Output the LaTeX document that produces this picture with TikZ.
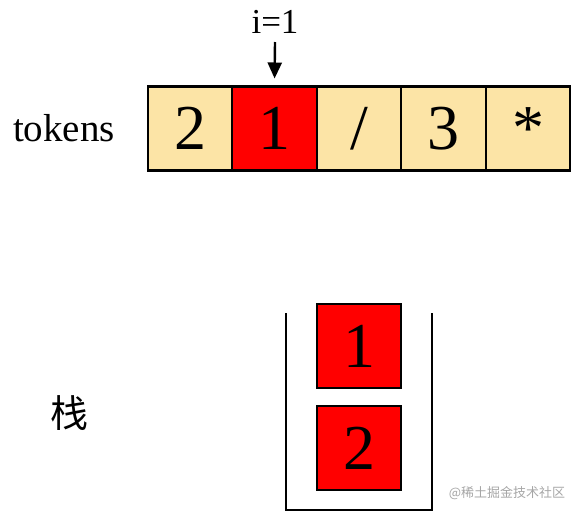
\documentclass[tikz,border=0pt]{standalone}
\usepackage{fontspec}
\setmainfont{Liberation Serif}
\newfontfamily\cjk{Noto Sans CJK SC}
\usetikzlibrary{arrows.meta,positioning}
\definecolor{cellyellow}{HTML}{FCE4A6}
\definecolor{cellred}{HTML}{FF0000}
\tikzset{
  cell/.style={draw,line width=1.1pt,minimum width=42.25pt,minimum height=42pt,
    inner sep=0pt,outer sep=0pt,font=\fontsize{32}{32}\selectfont},
  lbl/.style={font=\fontsize{19.5}{19.5}\selectfont},
}
\begin{document}
\begin{tikzpicture}[x=0.5pt,y=-0.5pt]
\useasboundingbox (0,0) rectangle (573,515);
% tokens row
\node[lbl] (tok) at (64,128) {tokens};
\node[cell,fill=cellyellow] (t1) at (190,128.5) {2};
\node[cell,fill=cellred,right=0pt of t1] (t2) {1};
\node[cell,fill=cellyellow,right=0pt of t2] (t3) {/};
\node[cell,fill=cellyellow,right=0pt of t3] (t4) {3};
\node[cell,fill=cellyellow,right=0pt of t4] (t5) {*};
% pointer
\node[font=\fontsize{17.5}{17.5}\selectfont] (idx) at (275,22) {i=1};
\coordinate (p) at (275,42);
\draw[line width=1.2pt,-{Stealth[length=8pt,width=7pt,inset=0pt]},shorten >=4pt] (p) -- (t2.north);
% stack
\node[font=\cjk\fontsize{19}{19}\selectfont] (stk) at (69,413) {栈};
\coordinate (sl) at (286,313);
\coordinate (sr) at (432,313);
\draw[line width=1.1pt] (sl) -- ++(0,197) -| (sr);
\node[cell,fill=cellred] (s1) at (359,346) {1};
\node[cell,fill=cellred] (s2) at (359,448) {2};
\node[font=\cjk\fontsize{6.5}{6.5}\selectfont,text=black!35] (wm) at (507,493) {@稀土掘金技术社区};
\end{tikzpicture}
\end{document}
